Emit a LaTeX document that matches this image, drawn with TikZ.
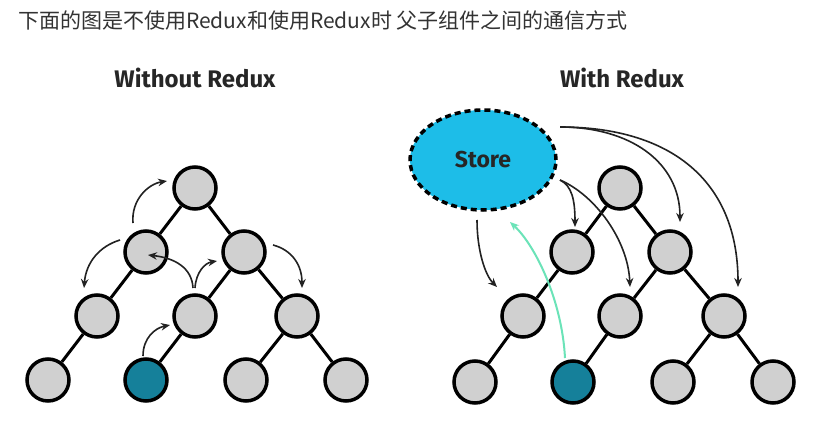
\documentclass[tikz,border=0pt]{standalone}
\usepackage{fontspec}
\setmainfont{Fira Sans}
\newfontfamily\cjk{Noto Sans CJK SC}
\usetikzlibrary{arrows.meta,shapes.geometric}
\definecolor{nodegray}{HTML}{D0D0D0}
\definecolor{tealnode}{HTML}{15809A}
\definecolor{storecyan}{HTML}{1DBDE8}
\definecolor{mint}{HTML}{6BE3B8}
\definecolor{flowgray}{HTML}{222222}
\definecolor{headtext}{HTML}{333333}
\begin{document}
\begin{tikzpicture}[x=1pt,y=-1pt,
  comp/.style={circle,draw=black,line width=3.5pt,fill=nodegray,minimum size=42pt,inner sep=0pt},
  leaf/.style={comp,fill=tealnode},
  link/.style={line width=3pt,black},
  flow/.style={-{Stealth[length=9pt,width=7.5pt]},line width=1.6pt,draw=flowgray},
  upflow/.style={-{Stealth[length=9pt,width=7.5pt]},line width=2pt,draw=mint},
  title/.style={font=\fontsize{24}{28}\selectfont\bfseries,text=black!85},
  store/.style={ellipse,draw=black,dash pattern=on 6pt off 4pt,line width=3.5pt,fill=storecyan,minimum width=146pt,minimum height=100pt}
]
\useasboundingbox (0,0) rectangle (821,420);
\fill[white] (0,0) rectangle (821,420);

\node[anchor=west,text=headtext,font=\cjk\fontsize{21}{25}\selectfont,inner sep=0pt] (head) at (18,21) {下面的图是不使用Redux和使用Redux时 父子组件之间的通信方式};

\node[title] (t1) at (195,78) {Without Redux};
\node[title] (t2) at (622,78) {With Redux};

% ---------- left tree ----------
\node[comp] (a0) at (195,188) {};
\node[comp] (a1) at (146,252) {};
\node[comp] (a2) at (244,252) {};
\node[comp] (a3) at (97,316) {};
\node[comp] (a4) at (195,316) {};
\node[comp] (a5) at (297,316) {};
\node[comp] (a6) at (48,380) {};
\node[leaf] (a7) at (146,380) {};
\node[comp] (a8) at (246,380) {};
\node[comp] (a9) at (346,380) {};

% ---------- right tree ----------
\node[comp] (b0) at (620,188) {};
\node[comp] (b1) at (572,252) {};
\node[comp] (b2) at (670,252) {};
\node[comp] (b3) at (523,316) {};
\node[comp] (b4) at (620,316) {};
\node[comp] (b5) at (724,316) {};
\node[comp] (b6) at (475,382) {};
\node[leaf] (b7) at (573,382) {};
\node[comp] (b8) at (673,382) {};
\node[comp] (b9) at (773,382) {};

% edges
\foreach \p/\c in {a0/a1,a0/a2,a1/a3,a2/a4,a2/a5,a3/a6,a4/a7,a5/a8,a5/a9,
                   b0/b1,b0/b2,b1/b3,b2/b4,b2/b5,b3/b6,b4/b7,b5/b8,b5/b9}
  \draw[link] (\p) -- (\c);

% store
\node[store,font=\fontsize{23}{26}\selectfont\bfseries,text=black!85] (st) at (483,160) {Store};

% left arrows
\coordinate (l1s) at (133,223); \coordinate (l1e) at (167,181);
\coordinate (l2s) at (120,240); \coordinate (l2e) at (84,288);
\coordinate (l3s) at (193,288); \coordinate (l3e) at (148,255);
\coordinate (l4s) at (195,288); \coordinate (l4e) at (217,261);
\coordinate (l5s) at (273,245); \coordinate (l5e) at (302,288);
\coordinate (l6s) at (143,356); \coordinate (l6e) at (170,325);
\draw[flow] (l1s) .. controls (131,200) and (148,184) .. (l1e);
\draw[flow] (l2s) .. controls (100,246) and (86,262) .. (l2e);
\draw[flow] (l3s) .. controls (192,268) and (175,258) .. (l3e);
\draw[flow] (l4s) .. controls (196,272) and (205,263) .. (l4e);
\draw[flow] (l5s) .. controls (292,250) and (302,265) .. (l5e);
\draw[flow] (l6s) .. controls (143,338) and (155,328) .. (l6e);

% right arrows
\coordinate (ra) at (560,127);
\coordinate (rb) at (560,180);
\coordinate (rc) at (477,220);
\coordinate (ra1) at (680,222); \coordinate (ra2) at (738,287);
\coordinate (rb1) at (575,227); \coordinate (rb2) at (630,287);
\coordinate (rc1) at (497,287);
\coordinate (gs) at (565,358); \coordinate (ge) at (510,222);
\draw[flow] (ra) .. controls (630,127) and (680,162) .. (ra1);
\draw[flow] (ra) .. controls (670,127) and (738,180) .. (ra2);
\draw[flow] (rb) .. controls (572,186) and (575,200) .. (rb1);
\draw[flow] (rb) .. controls (595,195) and (628,240) .. (rb2);
\draw[flow] (rc) .. controls (477,250) and (485,275) .. (rc1);
\draw[upflow] (gs) .. controls (562,300) and (535,245) .. (ge);
\end{tikzpicture}
\end{document}
